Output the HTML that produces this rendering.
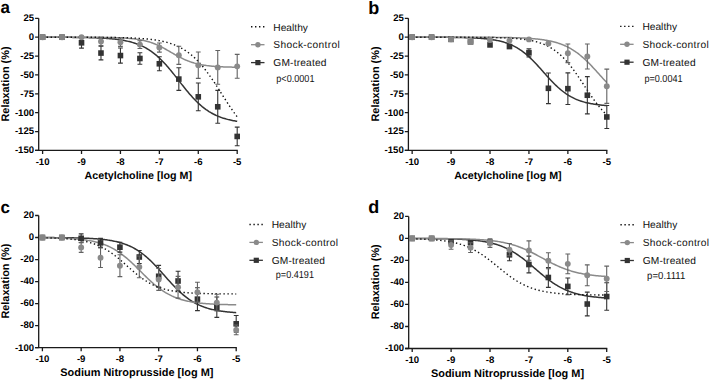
<!DOCTYPE html>
<html><head><meta charset="utf-8"><style>
html,body{margin:0;padding:0;background:#fff;}
svg{display:block;font-family:"Liberation Sans", sans-serif;text-rendering:geometricPrecision;}
</style></head><body>
<svg width="709" height="380" viewBox="0 0 709 380">
<rect width="709" height="380" fill="#fff"/>
<text x="0.6" y="13.3" font-size="17" font-weight="bold" fill="#000">a</text>
<path d="M38.70,18.35V150.40M35.10,150.40H237.80" stroke="#1a1a1a" stroke-width="1.3" fill="none"/>
<text x="34.10" y="21.25" font-size="9.6" font-weight="bold" text-anchor="end" fill="#000">25</text>
<text x="34.10" y="40.11" font-size="9.6" font-weight="bold" text-anchor="end" fill="#000">0</text>
<text x="34.10" y="58.98" font-size="9.6" font-weight="bold" text-anchor="end" fill="#000">-25</text>
<text x="34.10" y="77.84" font-size="9.6" font-weight="bold" text-anchor="end" fill="#000">-50</text>
<text x="34.10" y="96.71" font-size="9.6" font-weight="bold" text-anchor="end" fill="#000">-75</text>
<text x="34.10" y="115.57" font-size="9.6" font-weight="bold" text-anchor="end" fill="#000">-100</text>
<text x="34.10" y="134.44" font-size="9.6" font-weight="bold" text-anchor="end" fill="#000">-125</text>
<text x="34.10" y="153.30" font-size="9.6" font-weight="bold" text-anchor="end" fill="#000">-150</text>
<text x="42.60" y="164.70" font-size="9.6" font-weight="bold" text-anchor="middle" fill="#000">-10</text>
<text x="81.52" y="164.70" font-size="9.6" font-weight="bold" text-anchor="middle" fill="#000">-9</text>
<text x="120.44" y="164.70" font-size="9.6" font-weight="bold" text-anchor="middle" fill="#000">-8</text>
<text x="159.36" y="164.70" font-size="9.6" font-weight="bold" text-anchor="middle" fill="#000">-7</text>
<text x="198.28" y="164.70" font-size="9.6" font-weight="bold" text-anchor="middle" fill="#000">-6</text>
<text x="237.20" y="164.70" font-size="9.6" font-weight="bold" text-anchor="middle" fill="#000">-5</text>
<path d="M35.10,18.35H38.70M35.10,37.21H38.70M35.10,56.08H38.70M35.10,74.94H38.70M35.10,93.81H38.70M35.10,112.67H38.70M35.10,131.54H38.70M35.10,150.40H38.70M42.60,150.40V154.00M81.52,150.40V154.00M120.44,150.40V154.00M159.36,150.40V154.00M198.28,150.40V154.00M237.20,150.40V154.00" stroke="#1a1a1a" stroke-width="1.3" fill="none"/>
<text x="138.3" y="179.00" font-size="10.7" font-weight="bold" text-anchor="middle" fill="#000">Acetylcholine [log M]</text>
<text transform="translate(8.9,84.0) rotate(-90)" font-size="10.9" font-weight="bold" text-anchor="middle" fill="#000">Relaxation (%)</text>
<path d="M42.60,37.24L43.57,37.24L44.55,37.25L45.52,37.25L46.49,37.25L47.47,37.25L48.44,37.25L49.41,37.26L50.38,37.26L51.36,37.26L52.33,37.26L53.30,37.27L54.28,37.27L55.25,37.27L56.22,37.28L57.20,37.28L58.17,37.28L59.14,37.29L60.11,37.29L61.09,37.30L62.06,37.30L63.03,37.31L64.01,37.31L64.98,37.32L65.95,37.32L66.93,37.33L67.90,37.34L68.87,37.34L69.84,37.35L70.82,37.36L71.79,37.37L72.76,37.38L73.74,37.39L74.71,37.40L75.68,37.41L76.66,37.42L77.63,37.43L78.60,37.44L79.57,37.46L80.55,37.47L81.52,37.49L82.49,37.50L83.47,37.52L84.44,37.54L85.41,37.56L86.39,37.58L87.36,37.60L88.33,37.62L89.30,37.65L90.28,37.67L91.25,37.70L92.22,37.73L93.20,37.76L94.17,37.79L95.14,37.82L96.12,37.86L97.09,37.90L98.06,37.94L99.03,37.98L100.01,38.03L100.98,38.07L101.95,38.12L102.93,38.18L103.90,38.23L104.87,38.29L105.84,38.36L106.82,38.42L107.79,38.49L108.76,38.57L109.74,38.65L110.71,38.73L111.68,38.82L112.66,38.91L113.63,39.01L114.60,39.11L115.58,39.22L116.55,39.34L117.52,39.46L118.49,39.59L119.47,39.73L120.44,39.87L121.41,40.03L122.39,40.19L123.36,40.36L124.33,40.54L125.31,40.73L126.28,40.92L127.25,41.13L128.22,41.36L129.20,41.59L130.17,41.83L131.14,42.09L132.12,42.36L133.09,42.65L134.06,42.95L135.03,43.27L136.01,43.60L136.98,43.95L137.95,44.32L138.93,44.70L139.90,45.10L140.87,45.53L141.85,45.97L142.82,46.43L143.79,46.92L144.77,47.42L145.74,47.95L146.71,48.51L147.68,49.09L148.66,49.69L149.63,50.32L150.60,50.97L151.58,51.65L152.55,52.35L153.52,53.09L154.50,53.85L155.47,54.64L156.44,55.45L157.41,56.29L158.39,57.16L159.36,58.06L160.33,58.99L161.31,59.94L162.28,60.92L163.25,61.92L164.22,62.95L165.20,64.01L166.17,65.09L167.14,66.19L168.12,67.31L169.09,68.45L170.06,69.61L171.04,70.78L172.01,71.98L172.98,73.18L173.96,74.40L174.93,75.63L175.90,76.87L176.87,78.11L177.85,79.35L178.82,80.60L179.79,81.85L180.77,83.10L181.74,84.34L182.71,85.58L183.69,86.80L184.66,88.02L185.63,89.23L186.60,90.42L187.58,91.60L188.55,92.76L189.52,93.90L190.50,95.02L191.47,96.12L192.44,97.20L193.41,98.25L194.39,99.28L195.36,100.29L196.33,101.26L197.31,102.22L198.28,103.14L199.25,104.04L200.23,104.91L201.20,105.75L202.17,106.57L203.15,107.36L204.12,108.12L205.09,108.85L206.06,109.56L207.04,110.24L208.01,110.89L208.98,111.52L209.96,112.12L210.93,112.70L211.90,113.25L212.88,113.78L213.85,114.29L214.82,114.77L215.79,115.24L216.77,115.68L217.74,116.10L218.71,116.50L219.69,116.89L220.66,117.26L221.63,117.60L222.60,117.94L223.58,118.25L224.55,118.55L225.52,118.84L226.50,119.11L227.47,119.37L228.44,119.62L229.42,119.85L230.39,120.07L231.36,120.28L232.34,120.48L233.31,120.67L234.28,120.85L235.25,121.02L236.23,121.18L237.20,121.33" stroke="#333333" stroke-width="1.5" fill="none"/>
<path d="M42.60,37.22L43.57,37.22L44.55,37.22L45.52,37.22L46.49,37.22L47.47,37.22L48.44,37.22L49.41,37.22L50.38,37.22L51.36,37.22L52.33,37.22L53.30,37.22L54.28,37.22L55.25,37.22L56.22,37.22L57.20,37.22L58.17,37.22L59.14,37.22L60.11,37.22L61.09,37.22L62.06,37.22L63.03,37.22L64.01,37.22L64.98,37.22L65.95,37.22L66.93,37.22L67.90,37.23L68.87,37.23L69.84,37.23L70.82,37.23L71.79,37.23L72.76,37.23L73.74,37.23L74.71,37.23L75.68,37.23L76.66,37.24L77.63,37.24L78.60,37.24L79.57,37.24L80.55,37.24L81.52,37.25L82.49,37.25L83.47,37.25L84.44,37.25L85.41,37.26L86.39,37.26L87.36,37.26L88.33,37.27L89.30,37.27L90.28,37.27L91.25,37.28L92.22,37.28L93.20,37.29L94.17,37.30L95.14,37.30L96.12,37.31L97.09,37.32L98.06,37.32L99.03,37.33L100.01,37.34L100.98,37.35L101.95,37.36L102.93,37.37L103.90,37.39L104.87,37.40L105.84,37.41L106.82,37.43L107.79,37.45L108.76,37.46L109.74,37.48L110.71,37.50L111.68,37.53L112.66,37.55L113.63,37.57L114.60,37.60L115.58,37.63L116.55,37.66L117.52,37.70L118.49,37.74L119.47,37.78L120.44,37.82L121.41,37.86L122.39,37.91L123.36,37.97L124.33,38.02L125.31,38.08L126.28,38.15L127.25,38.22L128.22,38.30L129.20,38.38L130.17,38.46L131.14,38.56L132.12,38.65L133.09,38.76L134.06,38.87L135.03,39.00L136.01,39.13L136.98,39.26L137.95,39.41L138.93,39.57L139.90,39.74L140.87,39.92L141.85,40.11L142.82,40.31L143.79,40.52L144.77,40.75L145.74,40.99L146.71,41.24L147.68,41.51L148.66,41.79L149.63,42.09L150.60,42.41L151.58,42.74L152.55,43.08L153.52,43.44L154.50,43.82L155.47,44.22L156.44,44.63L157.41,45.05L158.39,45.49L159.36,45.95L160.33,46.42L161.31,46.91L162.28,47.41L163.25,47.92L164.22,48.44L165.20,48.97L166.17,49.51L167.14,50.06L168.12,50.62L169.09,51.18L170.06,51.74L171.04,52.31L172.01,52.87L172.98,53.43L173.96,53.99L174.93,54.55L175.90,55.10L176.87,55.64L177.85,56.17L178.82,56.69L179.79,57.20L180.77,57.70L181.74,58.19L182.71,58.66L183.69,59.12L184.66,59.56L185.63,59.99L186.60,60.40L187.58,60.79L188.55,61.17L189.52,61.53L190.50,61.88L191.47,62.21L192.44,62.52L193.41,62.82L194.39,63.10L195.36,63.37L196.33,63.62L197.31,63.86L198.28,64.09L199.25,64.30L200.23,64.51L201.20,64.70L202.17,64.87L203.15,65.04L204.12,65.20L205.09,65.35L206.06,65.49L207.04,65.62L208.01,65.74L208.98,65.85L209.96,65.96L210.93,66.06L211.90,66.15L212.88,66.24L213.85,66.32L214.82,66.39L215.79,66.46L216.77,66.53L217.74,66.59L218.71,66.64L219.69,66.70L220.66,66.75L221.63,66.79L222.60,66.84L223.58,66.88L224.55,66.91L225.52,66.95L226.50,66.98L227.47,67.01L228.44,67.04L229.42,67.06L230.39,67.09L231.36,67.11L232.34,67.13L233.31,67.15L234.28,67.17L235.25,67.18L236.23,67.20L237.20,67.21" stroke="#8a8a8a" stroke-width="1.5" fill="none"/>
<path d="M42.60,37.22L43.57,37.22L44.55,37.22L45.52,37.22L46.49,37.22L47.47,37.22L48.44,37.22L49.41,37.22L50.38,37.22L51.36,37.22L52.33,37.22L53.30,37.22L54.28,37.22L55.25,37.23L56.22,37.23L57.20,37.23L58.17,37.23L59.14,37.23L60.11,37.23L61.09,37.23L62.06,37.23L63.03,37.23L64.01,37.23L64.98,37.23L65.95,37.23L66.93,37.24L67.90,37.24L68.87,37.24L69.84,37.24L70.82,37.24L71.79,37.24L72.76,37.24L73.74,37.24L74.71,37.25L75.68,37.25L76.66,37.25L77.63,37.25L78.60,37.25L79.57,37.26L80.55,37.26L81.52,37.26L82.49,37.26L83.47,37.27L84.44,37.27L85.41,37.27L86.39,37.28L87.36,37.28L88.33,37.28L89.30,37.29L90.28,37.29L91.25,37.29L92.22,37.30L93.20,37.30L94.17,37.31L95.14,37.31L96.12,37.32L97.09,37.33L98.06,37.33L99.03,37.34L100.01,37.34L100.98,37.35L101.95,37.36L102.93,37.37L103.90,37.38L104.87,37.39L105.84,37.39L106.82,37.40L107.79,37.42L108.76,37.43L109.74,37.44L110.71,37.45L111.68,37.46L112.66,37.48L113.63,37.49L114.60,37.51L115.58,37.52L116.55,37.54L117.52,37.56L118.49,37.58L119.47,37.60L120.44,37.62L121.41,37.64L122.39,37.67L123.36,37.69L124.33,37.72L125.31,37.75L126.28,37.77L127.25,37.81L128.22,37.84L129.20,37.87L130.17,37.91L131.14,37.95L132.12,37.99L133.09,38.03L134.06,38.08L135.03,38.12L136.01,38.17L136.98,38.23L137.95,38.28L138.93,38.34L139.90,38.40L140.87,38.47L141.85,38.54L142.82,38.61L143.79,38.69L144.77,38.77L145.74,38.85L146.71,38.94L147.68,39.04L148.66,39.14L149.63,39.24L150.60,39.35L151.58,39.47L152.55,39.59L153.52,39.72L154.50,39.86L155.47,40.00L156.44,40.15L157.41,40.31L158.39,40.48L159.36,40.65L160.33,40.84L161.31,41.03L162.28,41.24L163.25,41.45L164.22,41.68L165.20,41.92L166.17,42.17L167.14,42.43L168.12,42.71L169.09,43.00L170.06,43.30L171.04,43.62L172.01,43.95L172.98,44.31L173.96,44.67L174.93,45.06L175.90,45.46L176.87,45.89L177.85,46.33L178.82,46.79L179.79,47.28L180.77,47.79L181.74,48.32L182.71,48.87L183.69,49.45L184.66,50.05L185.63,50.68L186.60,51.34L187.58,52.02L188.55,52.73L189.52,53.47L190.50,54.24L191.47,55.03L192.44,55.86L193.41,56.72L194.39,57.61L195.36,58.53L196.33,59.48L197.31,60.46L198.28,61.48L199.25,62.53L200.23,63.61L201.20,64.72L202.17,65.86L203.15,67.03L204.12,68.24L205.09,69.47L206.06,70.73L207.04,72.02L208.01,73.34L208.98,74.68L209.96,76.05L210.93,77.44L211.90,78.86L212.88,80.29L213.85,81.75L214.82,83.22L215.79,84.70L216.77,86.20L217.74,87.71L218.71,89.22L219.69,90.75L220.66,92.28L221.63,93.81L222.60,95.34L223.58,96.87L224.55,98.39L225.52,99.91L226.50,101.42L227.47,102.91L228.44,104.40L229.42,105.87L230.39,107.32L231.36,108.76L232.34,110.17L233.31,111.56L234.28,112.93L235.25,114.27L236.23,115.59L237.20,116.88" stroke="#111" stroke-width="1.4" fill="none" stroke-dasharray="1.4,2.6"/>
<path d="M81.52,37.52V48.08M79.12,37.52h4.8M79.12,48.08h4.8" stroke="#333333" stroke-width="1.1" fill="none"/><path d="M100.98,46.27V59.85M98.58,46.27h4.8M98.58,59.85h4.8" stroke="#333333" stroke-width="1.1" fill="none"/><path d="M120.44,48.00V63.10M118.04,48.00h4.8M118.04,63.10h4.8" stroke="#333333" stroke-width="1.1" fill="none"/><path d="M139.90,52.76V64.23M137.50,52.76h4.8M137.50,64.23h4.8" stroke="#333333" stroke-width="1.1" fill="none"/><path d="M159.36,56.76V70.79M156.96,56.76h4.8M156.96,70.79h4.8" stroke="#333333" stroke-width="1.1" fill="none"/><path d="M178.82,67.77V90.41M176.42,67.77h4.8M176.42,90.41h4.8" stroke="#333333" stroke-width="1.1" fill="none"/><path d="M198.28,82.94V110.71M195.88,82.94h4.8M195.88,110.71h4.8" stroke="#333333" stroke-width="1.1" fill="none"/><path d="M217.74,90.34V123.24M215.34,90.34h4.8M215.34,123.24h4.8" stroke="#333333" stroke-width="1.1" fill="none"/><path d="M237.20,127.16V145.72M234.80,127.16h4.8M234.80,145.72h4.8" stroke="#333333" stroke-width="1.1" fill="none"/><rect x="39.80" y="34.41" width="5.6" height="5.6" fill="#333333"/><rect x="59.26" y="34.41" width="5.6" height="5.6" fill="#333333"/><rect x="78.72" y="40.00" width="5.6" height="5.6" fill="#333333"/><rect x="98.18" y="50.26" width="5.6" height="5.6" fill="#333333"/><rect x="117.64" y="52.75" width="5.6" height="5.6" fill="#333333"/><rect x="137.10" y="55.69" width="5.6" height="5.6" fill="#333333"/><rect x="156.56" y="60.98" width="5.6" height="5.6" fill="#333333"/><rect x="176.02" y="76.29" width="5.6" height="5.6" fill="#333333"/><rect x="195.48" y="94.03" width="5.6" height="5.6" fill="#333333"/><rect x="214.94" y="103.99" width="5.6" height="5.6" fill="#333333"/><rect x="234.40" y="133.64" width="5.6" height="5.6" fill="#333333"/>
<path d="M100.98,37.29V45.59M98.58,37.29h4.8M98.58,45.59h4.8" stroke="#626262" stroke-width="1.1" fill="none"/><path d="M120.44,38.04V46.34M118.04,38.04h4.8M118.04,46.34h4.8" stroke="#626262" stroke-width="1.1" fill="none"/><path d="M139.90,40.69V48.53M137.50,40.69h4.8M137.50,48.53h4.8" stroke="#626262" stroke-width="1.1" fill="none"/><path d="M159.36,43.02V52.08M156.96,43.02h4.8M156.96,52.08h4.8" stroke="#626262" stroke-width="1.1" fill="none"/><path d="M178.82,46.27V64.38M176.42,46.27h4.8M176.42,64.38h4.8" stroke="#626262" stroke-width="1.1" fill="none"/><path d="M198.28,52.00V78.41M195.88,52.00h4.8M195.88,78.41h4.8" stroke="#626262" stroke-width="1.1" fill="none"/><path d="M217.74,50.49V84.30M215.34,50.49h4.8M215.34,84.30h4.8" stroke="#626262" stroke-width="1.1" fill="none"/><path d="M237.20,54.42V78.26M234.80,54.42h4.8M234.80,78.26h4.8" stroke="#626262" stroke-width="1.1" fill="none"/><circle cx="42.60" cy="37.21" r="2.95" fill="#8a8a8a"/><circle cx="62.06" cy="37.21" r="2.95" fill="#8a8a8a"/><circle cx="81.52" cy="37.21" r="2.95" fill="#8a8a8a"/><circle cx="100.98" cy="41.44" r="2.95" fill="#8a8a8a"/><circle cx="120.44" cy="42.19" r="2.95" fill="#8a8a8a"/><circle cx="139.90" cy="44.61" r="2.95" fill="#8a8a8a"/><circle cx="159.36" cy="47.55" r="2.95" fill="#8a8a8a"/><circle cx="178.82" cy="55.32" r="2.95" fill="#8a8a8a"/><circle cx="198.28" cy="65.21" r="2.95" fill="#8a8a8a"/><circle cx="217.74" cy="67.40" r="2.95" fill="#8a8a8a"/><circle cx="237.20" cy="66.34" r="2.95" fill="#8a8a8a"/>
<rect x="39.80" y="34.41" width="5.6" height="5.6" fill="#858585"/><rect x="59.26" y="34.41" width="5.6" height="5.6" fill="#858585"/>
<path d="M251.00,26.80h13.5" stroke="#111" stroke-width="1.4" stroke-dasharray="1.4,2.6" fill="none"/>
<path d="M251.00,44.70h13.5" stroke="#8a8a8a" stroke-width="1.3" fill="none"/><circle cx="257.90" cy="44.70" r="2.7" fill="#8a8a8a"/>
<path d="M251.00,62.60h13.5" stroke="#333333" stroke-width="1.3" fill="none"/><rect x="255.30" y="60.00" width="5.2" height="5.2" fill="#333333"/>
<text x="273.30" y="30.50" font-size="10.2" textLength="34.6" fill="#111">Healthy</text>
<text x="273.30" y="48.40" font-size="10.2" textLength="66.4" fill="#111">Shock-control</text>
<text x="273.30" y="66.30" font-size="10.2" textLength="53.2" fill="#111">GM-treated</text>
<text x="276.30" y="82.00" font-size="10.2" textLength="38.2" lengthAdjust="spacingAndGlyphs" fill="#111">p&lt;0.0001</text>
<text x="368.2" y="13.6" font-size="18" font-weight="bold" fill="#000">b</text>
<path d="M408.40,18.35V150.40M404.80,150.40H607.40" stroke="#1a1a1a" stroke-width="1.3" fill="none"/>
<text x="403.80" y="21.25" font-size="9.6" font-weight="bold" text-anchor="end" fill="#000">25</text>
<text x="403.80" y="40.11" font-size="9.6" font-weight="bold" text-anchor="end" fill="#000">0</text>
<text x="403.80" y="58.98" font-size="9.6" font-weight="bold" text-anchor="end" fill="#000">-25</text>
<text x="403.80" y="77.84" font-size="9.6" font-weight="bold" text-anchor="end" fill="#000">-50</text>
<text x="403.80" y="96.71" font-size="9.6" font-weight="bold" text-anchor="end" fill="#000">-75</text>
<text x="403.80" y="115.57" font-size="9.6" font-weight="bold" text-anchor="end" fill="#000">-100</text>
<text x="403.80" y="134.44" font-size="9.6" font-weight="bold" text-anchor="end" fill="#000">-125</text>
<text x="403.80" y="153.30" font-size="9.6" font-weight="bold" text-anchor="end" fill="#000">-150</text>
<text x="412.15" y="164.70" font-size="9.6" font-weight="bold" text-anchor="middle" fill="#000">-10</text>
<text x="451.08" y="164.70" font-size="9.6" font-weight="bold" text-anchor="middle" fill="#000">-9</text>
<text x="490.01" y="164.70" font-size="9.6" font-weight="bold" text-anchor="middle" fill="#000">-8</text>
<text x="528.94" y="164.70" font-size="9.6" font-weight="bold" text-anchor="middle" fill="#000">-7</text>
<text x="567.87" y="164.70" font-size="9.6" font-weight="bold" text-anchor="middle" fill="#000">-6</text>
<text x="606.80" y="164.70" font-size="9.6" font-weight="bold" text-anchor="middle" fill="#000">-5</text>
<path d="M404.80,18.35H408.40M404.80,37.21H408.40M404.80,56.08H408.40M404.80,74.94H408.40M404.80,93.81H408.40M404.80,112.67H408.40M404.80,131.54H408.40M404.80,150.40H408.40M412.15,150.40V154.00M451.08,150.40V154.00M490.01,150.40V154.00M528.94,150.40V154.00M567.87,150.40V154.00M606.80,150.40V154.00" stroke="#1a1a1a" stroke-width="1.3" fill="none"/>
<text x="507.9" y="179.00" font-size="10.7" font-weight="bold" text-anchor="middle" fill="#000">Acetylcholine [log M]</text>
<text transform="translate(378.9,84.0) rotate(-90)" font-size="10.9" font-weight="bold" text-anchor="middle" fill="#000">Relaxation (%)</text>
<path d="M412.15,37.23L413.12,37.23L414.10,37.23L415.07,37.23L416.04,37.23L417.02,37.23L417.99,37.23L418.96,37.24L419.94,37.24L420.91,37.24L421.88,37.24L422.86,37.24L423.83,37.24L424.80,37.25L425.78,37.25L426.75,37.25L427.72,37.25L428.70,37.25L429.67,37.26L430.64,37.26L431.61,37.26L432.59,37.27L433.56,37.27L434.53,37.27L435.51,37.28L436.48,37.28L437.45,37.28L438.43,37.29L439.40,37.29L440.37,37.30L441.35,37.31L442.32,37.31L443.29,37.32L444.27,37.32L445.24,37.33L446.21,37.34L447.19,37.35L448.16,37.36L449.13,37.37L450.11,37.37L451.08,37.39L452.05,37.40L453.03,37.41L454.00,37.42L454.97,37.43L455.95,37.45L456.92,37.46L457.89,37.48L458.87,37.50L459.84,37.52L460.81,37.54L461.79,37.56L462.76,37.58L463.73,37.60L464.71,37.63L465.68,37.66L466.65,37.68L467.63,37.71L468.60,37.75L469.57,37.78L470.54,37.82L471.52,37.86L472.49,37.90L473.46,37.94L474.44,37.99L475.41,38.04L476.38,38.09L477.36,38.15L478.33,38.21L479.30,38.27L480.28,38.34L481.25,38.41L482.22,38.49L483.20,38.57L484.17,38.66L485.14,38.75L486.12,38.85L487.09,38.96L488.06,39.07L489.04,39.18L490.01,39.31L490.98,39.44L491.96,39.58L492.93,39.73L493.90,39.89L494.88,40.06L495.85,40.24L496.82,40.42L497.80,40.62L498.77,40.83L499.74,41.06L500.72,41.29L501.69,41.54L502.66,41.81L503.64,42.09L504.61,42.38L505.58,42.69L506.56,43.02L507.53,43.37L508.50,43.73L509.47,44.12L510.45,44.52L511.42,44.94L512.39,45.39L513.37,45.86L514.34,46.35L515.31,46.86L516.29,47.40L517.26,47.96L518.23,48.55L519.21,49.17L520.18,49.81L521.15,50.47L522.13,51.16L523.10,51.88L524.07,52.63L525.05,53.40L526.02,54.20L526.99,55.03L527.97,55.88L528.94,56.75L529.91,57.66L530.89,58.58L531.86,59.53L532.83,60.50L533.81,61.49L534.78,62.50L535.75,63.52L536.73,64.57L537.70,65.62L538.67,66.69L539.65,67.77L540.62,68.86L541.59,69.95L542.57,71.05L543.54,72.14L544.51,73.24L545.49,74.34L546.46,75.43L547.43,76.51L548.40,77.59L549.38,78.65L550.35,79.70L551.32,80.74L552.30,81.76L553.27,82.76L554.24,83.74L555.22,84.70L556.19,85.64L557.16,86.56L558.14,87.45L559.11,88.31L560.08,89.16L561.06,89.97L562.03,90.76L563.00,91.52L563.98,92.26L564.95,92.97L565.92,93.65L566.90,94.30L567.87,94.93L568.84,95.53L569.82,96.11L570.79,96.67L571.76,97.19L572.74,97.70L573.71,98.18L574.68,98.64L575.66,99.08L576.63,99.49L577.60,99.89L578.58,100.26L579.55,100.62L580.52,100.96L581.50,101.28L582.47,101.59L583.44,101.87L584.42,102.15L585.39,102.41L586.36,102.65L587.34,102.88L588.31,103.10L589.28,103.31L590.25,103.50L591.23,103.69L592.20,103.86L593.17,104.02L594.15,104.18L595.12,104.32L596.09,104.46L597.07,104.59L598.04,104.71L599.01,104.83L599.99,104.94L600.96,105.04L601.93,105.13L602.91,105.22L603.88,105.31L604.85,105.39L605.83,105.46L606.80,105.53" stroke="#333333" stroke-width="1.5" fill="none"/>
<path d="M412.15,37.22L413.12,37.22L414.10,37.22L415.07,37.22L416.04,37.22L417.02,37.22L417.99,37.22L418.96,37.22L419.94,37.22L420.91,37.22L421.88,37.22L422.86,37.22L423.83,37.22L424.80,37.22L425.78,37.22L426.75,37.22L427.72,37.22L428.70,37.22L429.67,37.22L430.64,37.22L431.61,37.22L432.59,37.22L433.56,37.22L434.53,37.22L435.51,37.22L436.48,37.22L437.45,37.22L438.43,37.22L439.40,37.22L440.37,37.22L441.35,37.22L442.32,37.22L443.29,37.22L444.27,37.22L445.24,37.22L446.21,37.22L447.19,37.22L448.16,37.22L449.13,37.22L450.11,37.23L451.08,37.23L452.05,37.23L453.03,37.23L454.00,37.23L454.97,37.23L455.95,37.23L456.92,37.23L457.89,37.23L458.87,37.23L459.84,37.23L460.81,37.23L461.79,37.24L462.76,37.24L463.73,37.24L464.71,37.24L465.68,37.24L466.65,37.24L467.63,37.24L468.60,37.25L469.57,37.25L470.54,37.25L471.52,37.25L472.49,37.25L473.46,37.26L474.44,37.26L475.41,37.26L476.38,37.27L477.36,37.27L478.33,37.27L479.30,37.27L480.28,37.28L481.25,37.28L482.22,37.29L483.20,37.29L484.17,37.30L485.14,37.30L486.12,37.30L487.09,37.31L488.06,37.32L489.04,37.32L490.01,37.33L490.98,37.34L491.96,37.34L492.93,37.35L493.90,37.36L494.88,37.37L495.85,37.38L496.82,37.38L497.80,37.39L498.77,37.41L499.74,37.42L500.72,37.43L501.69,37.44L502.66,37.45L503.64,37.47L504.61,37.48L505.58,37.50L506.56,37.52L507.53,37.53L508.50,37.55L509.47,37.57L510.45,37.59L511.42,37.62L512.39,37.64L513.37,37.67L514.34,37.69L515.31,37.72L516.29,37.75L517.26,37.78L518.23,37.82L519.21,37.85L520.18,37.89L521.15,37.93L522.13,37.97L523.10,38.01L524.07,38.06L525.05,38.11L526.02,38.16L526.99,38.22L527.97,38.28L528.94,38.34L529.91,38.40L530.89,38.47L531.86,38.55L532.83,38.63L533.81,38.71L534.78,38.79L535.75,38.89L536.73,38.98L537.70,39.08L538.67,39.19L539.65,39.31L540.62,39.43L541.59,39.55L542.57,39.69L543.54,39.83L544.51,39.98L545.49,40.14L546.46,40.30L547.43,40.48L548.40,40.66L549.38,40.86L550.35,41.06L551.32,41.28L552.30,41.50L553.27,41.74L554.24,41.99L555.22,42.26L556.19,42.53L557.16,42.83L558.14,43.13L559.11,43.45L560.08,43.79L561.06,44.15L562.03,44.52L563.00,44.91L563.98,45.31L564.95,45.74L565.92,46.18L566.90,46.65L567.87,47.13L568.84,47.64L569.82,48.17L570.79,48.72L571.76,49.29L572.74,49.89L573.71,50.51L574.68,51.15L575.66,51.81L576.63,52.50L577.60,53.22L578.58,53.95L579.55,54.72L580.52,55.50L581.50,56.31L582.47,57.14L583.44,58.00L584.42,58.88L585.39,59.78L586.36,60.70L587.34,61.64L588.31,62.60L589.28,63.58L590.25,64.57L591.23,65.59L592.20,66.61L593.17,67.65L594.15,68.70L595.12,69.76L596.09,70.83L597.07,71.91L598.04,72.99L599.01,74.07L599.99,75.16L600.96,76.25L601.93,77.33L602.91,78.41L603.88,79.48L604.85,80.55L605.83,81.60L606.80,82.65" stroke="#8a8a8a" stroke-width="1.5" fill="none"/>
<path d="M412.15,37.22L413.12,37.22L414.10,37.22L415.07,37.22L416.04,37.22L417.02,37.22L417.99,37.22L418.96,37.22L419.94,37.22L420.91,37.22L421.88,37.22L422.86,37.22L423.83,37.22L424.80,37.22L425.78,37.22L426.75,37.22L427.72,37.22L428.70,37.22L429.67,37.22L430.64,37.22L431.61,37.22L432.59,37.22L433.56,37.22L434.53,37.22L435.51,37.22L436.48,37.22L437.45,37.22L438.43,37.22L439.40,37.23L440.37,37.23L441.35,37.23L442.32,37.23L443.29,37.23L444.27,37.23L445.24,37.23L446.21,37.23L447.19,37.23L448.16,37.23L449.13,37.23L450.11,37.24L451.08,37.24L452.05,37.24L453.03,37.24L454.00,37.24L454.97,37.24L455.95,37.25L456.92,37.25L457.89,37.25L458.87,37.25L459.84,37.25L460.81,37.26L461.79,37.26L462.76,37.26L463.73,37.26L464.71,37.27L465.68,37.27L466.65,37.28L467.63,37.28L468.60,37.28L469.57,37.29L470.54,37.29L471.52,37.30L472.49,37.30L473.46,37.31L474.44,37.31L475.41,37.32L476.38,37.33L477.36,37.33L478.33,37.34L479.30,37.35L480.28,37.36L481.25,37.37L482.22,37.38L483.20,37.39L484.17,37.40L485.14,37.41L486.12,37.42L487.09,37.43L488.06,37.45L489.04,37.46L490.01,37.48L490.98,37.49L491.96,37.51L492.93,37.53L493.90,37.55L494.88,37.57L495.85,37.59L496.82,37.62L497.80,37.64L498.77,37.67L499.74,37.70L500.72,37.73L501.69,37.76L502.66,37.79L503.64,37.83L504.61,37.87L505.58,37.91L506.56,37.95L507.53,38.00L508.50,38.05L509.47,38.10L510.45,38.15L511.42,38.21L512.39,38.27L513.37,38.34L514.34,38.41L515.31,38.48L516.29,38.56L517.26,38.64L518.23,38.73L519.21,38.83L520.18,38.93L521.15,39.03L522.13,39.14L523.10,39.26L524.07,39.39L525.05,39.52L526.02,39.66L526.99,39.81L527.97,39.97L528.94,40.14L529.91,40.32L530.89,40.51L531.86,40.71L532.83,40.92L533.81,41.14L534.78,41.38L535.75,41.63L536.73,41.89L537.70,42.17L538.67,42.47L539.65,42.78L540.62,43.11L541.59,43.45L542.57,43.82L543.54,44.21L544.51,44.61L545.49,45.04L546.46,45.49L547.43,45.96L548.40,46.46L549.38,46.98L550.35,47.53L551.32,48.11L552.30,48.71L553.27,49.35L554.24,50.01L555.22,50.70L556.19,51.42L557.16,52.18L558.14,52.97L559.11,53.79L560.08,54.64L561.06,55.53L562.03,56.46L563.00,57.41L563.98,58.40L564.95,59.43L565.92,60.49L566.90,61.59L567.87,62.72L568.84,63.88L569.82,65.07L570.79,66.30L571.76,67.55L572.74,68.84L573.71,70.15L574.68,71.48L575.66,72.84L576.63,74.23L577.60,75.63L578.58,77.05L579.55,78.48L580.52,79.93L581.50,81.39L582.47,82.86L583.44,84.33L584.42,85.80L585.39,87.27L586.36,88.74L587.34,90.21L588.31,91.66L589.28,93.10L590.25,94.53L591.23,95.95L592.20,97.34L593.17,98.72L594.15,100.07L595.12,101.39L596.09,102.70L597.07,103.97L598.04,105.21L599.01,106.42L599.99,107.60L600.96,108.75L601.93,109.87L602.91,110.95L603.88,112.00L604.85,113.01L605.83,113.99L606.80,114.93" stroke="#111" stroke-width="1.4" fill="none" stroke-dasharray="1.4,2.6"/>
<path d="M528.94,48.83V56.83M526.54,48.83h4.8M526.54,56.83h4.8" stroke="#333333" stroke-width="1.1" fill="none"/><path d="M548.40,72.98V103.62M546.00,72.98h4.8M546.00,103.62h4.8" stroke="#333333" stroke-width="1.1" fill="none"/><path d="M567.87,72.83V104.52M565.47,72.83h4.8M565.47,104.52h4.8" stroke="#333333" stroke-width="1.1" fill="none"/><path d="M587.34,76.60V113.88M584.94,76.60h4.8M584.94,113.88h4.8" stroke="#333333" stroke-width="1.1" fill="none"/><path d="M606.80,105.43V128.52M604.40,105.43h4.8M604.40,128.52h4.8" stroke="#333333" stroke-width="1.1" fill="none"/><rect x="409.35" y="34.41" width="5.6" height="5.6" fill="#333333"/><rect x="428.81" y="34.41" width="5.6" height="5.6" fill="#333333"/><rect x="448.28" y="36.53" width="5.6" height="5.6" fill="#333333"/><rect x="467.74" y="39.02" width="5.6" height="5.6" fill="#333333"/><rect x="487.21" y="42.11" width="5.6" height="5.6" fill="#333333"/><rect x="506.67" y="43.77" width="5.6" height="5.6" fill="#333333"/><rect x="526.14" y="50.03" width="5.6" height="5.6" fill="#333333"/><rect x="545.61" y="85.50" width="5.6" height="5.6" fill="#333333"/><rect x="565.07" y="85.88" width="5.6" height="5.6" fill="#333333"/><rect x="584.54" y="92.44" width="5.6" height="5.6" fill="#333333"/><rect x="604.00" y="114.17" width="5.6" height="5.6" fill="#333333"/>
<path d="M567.87,43.93V62.64M565.47,43.93h4.8M565.47,62.64h4.8" stroke="#626262" stroke-width="1.1" fill="none"/><path d="M587.34,43.93V68.98M584.94,43.93h4.8M584.94,68.98h4.8" stroke="#626262" stroke-width="1.1" fill="none"/><path d="M606.80,69.13V103.39M604.40,69.13h4.8M604.40,103.39h4.8" stroke="#626262" stroke-width="1.1" fill="none"/><circle cx="412.15" cy="37.21" r="2.95" fill="#8a8a8a"/><circle cx="431.61" cy="37.21" r="2.95" fill="#8a8a8a"/><circle cx="451.08" cy="39.33" r="2.95" fill="#8a8a8a"/><circle cx="470.54" cy="41.82" r="2.95" fill="#8a8a8a"/><circle cx="490.01" cy="40.01" r="2.95" fill="#8a8a8a"/><circle cx="509.47" cy="40.61" r="2.95" fill="#8a8a8a"/><circle cx="528.94" cy="39.40" r="2.95" fill="#8a8a8a"/><circle cx="548.40" cy="43.40" r="2.95" fill="#8a8a8a"/><circle cx="567.87" cy="53.29" r="2.95" fill="#8a8a8a"/><circle cx="587.34" cy="56.46" r="2.95" fill="#8a8a8a"/><circle cx="606.80" cy="86.26" r="2.95" fill="#8a8a8a"/>
<rect x="409.35" y="34.41" width="5.6" height="5.6" fill="#858585"/><rect x="428.81" y="34.41" width="5.6" height="5.6" fill="#858585"/><rect x="448.28" y="36.53" width="5.6" height="5.6" fill="#858585"/><rect x="467.74" y="39.02" width="5.6" height="5.6" fill="#858585"/>
<path d="M620.10,26.40h13.5" stroke="#111" stroke-width="1.4" stroke-dasharray="1.4,2.6" fill="none"/>
<path d="M620.10,44.30h13.5" stroke="#8a8a8a" stroke-width="1.3" fill="none"/><circle cx="627.00" cy="44.30" r="2.7" fill="#8a8a8a"/>
<path d="M620.10,62.20h13.5" stroke="#333333" stroke-width="1.3" fill="none"/><rect x="624.40" y="59.60" width="5.2" height="5.2" fill="#333333"/>
<text x="642.40" y="30.10" font-size="10.2" textLength="34.6" fill="#111">Healthy</text>
<text x="642.40" y="48.00" font-size="10.2" textLength="66.4" fill="#111">Shock-control</text>
<text x="642.40" y="65.90" font-size="10.2" textLength="53.2" fill="#111">GM-treated</text>
<text x="644.40" y="81.90" font-size="10.2" textLength="38.2" lengthAdjust="spacingAndGlyphs" fill="#111">p=0.0041</text>
<text x="0.6" y="212.7" font-size="17" font-weight="bold" fill="#000">c</text>
<path d="M38.70,215.50V347.60M35.10,347.60H236.80" stroke="#1a1a1a" stroke-width="1.3" fill="none"/>
<text x="34.10" y="218.40" font-size="9.6" font-weight="bold" text-anchor="end" fill="#000">20</text>
<text x="34.10" y="240.42" font-size="9.6" font-weight="bold" text-anchor="end" fill="#000">0</text>
<text x="34.10" y="262.43" font-size="9.6" font-weight="bold" text-anchor="end" fill="#000">-20</text>
<text x="34.10" y="284.45" font-size="9.6" font-weight="bold" text-anchor="end" fill="#000">-40</text>
<text x="34.10" y="306.47" font-size="9.6" font-weight="bold" text-anchor="end" fill="#000">-60</text>
<text x="34.10" y="328.48" font-size="9.6" font-weight="bold" text-anchor="end" fill="#000">-80</text>
<text x="34.10" y="350.50" font-size="9.6" font-weight="bold" text-anchor="end" fill="#000">-100</text>
<text x="42.40" y="361.90" font-size="9.6" font-weight="bold" text-anchor="middle" fill="#000">-10</text>
<text x="81.16" y="361.90" font-size="9.6" font-weight="bold" text-anchor="middle" fill="#000">-9</text>
<text x="119.92" y="361.90" font-size="9.6" font-weight="bold" text-anchor="middle" fill="#000">-8</text>
<text x="158.68" y="361.90" font-size="9.6" font-weight="bold" text-anchor="middle" fill="#000">-7</text>
<text x="197.44" y="361.90" font-size="9.6" font-weight="bold" text-anchor="middle" fill="#000">-6</text>
<text x="236.20" y="361.90" font-size="9.6" font-weight="bold" text-anchor="middle" fill="#000">-5</text>
<path d="M35.10,215.50H38.70M35.10,237.52H38.70M35.10,259.53H38.70M35.10,281.55H38.70M35.10,303.57H38.70M35.10,325.58H38.70M35.10,347.60H38.70M42.40,347.60V351.20M81.16,347.60V351.20M119.92,347.60V351.20M158.68,347.60V351.20M197.44,347.60V351.20M236.20,347.60V351.20" stroke="#1a1a1a" stroke-width="1.3" fill="none"/>
<text x="136.9" y="376.20" font-size="10.95" font-weight="bold" text-anchor="middle" fill="#000">Sodium Nitroprusside [log M]</text>
<text transform="translate(8.9,281.1) rotate(-90)" font-size="10.9" font-weight="bold" text-anchor="middle" fill="#000">Relaxation (%)</text>
<path d="M42.40,237.57L43.37,237.57L44.34,237.58L45.31,237.58L46.28,237.58L47.24,237.59L48.21,237.59L49.18,237.60L50.15,237.60L51.12,237.61L52.09,237.61L53.06,237.62L54.03,237.62L55.00,237.63L55.97,237.64L56.94,237.64L57.90,237.65L58.87,237.66L59.84,237.67L60.81,237.68L61.78,237.69L62.75,237.70L63.72,237.71L64.69,237.72L65.66,237.73L66.62,237.74L67.59,237.76L68.56,237.77L69.53,237.79L70.50,237.80L71.47,237.82L72.44,237.84L73.41,237.86L74.38,237.88L75.35,237.90L76.31,237.92L77.28,237.94L78.25,237.97L79.22,237.99L80.19,238.02L81.16,238.05L82.13,238.08L83.10,238.12L84.07,238.15L85.04,238.19L86.00,238.23L86.97,238.27L87.94,238.32L88.91,238.36L89.88,238.41L90.85,238.46L91.82,238.52L92.79,238.58L93.76,238.64L94.73,238.71L95.69,238.77L96.66,238.85L97.63,238.93L98.60,239.01L99.57,239.09L100.54,239.18L101.51,239.28L102.48,239.38L103.45,239.49L104.42,239.60L105.38,239.72L106.35,239.85L107.32,239.99L108.29,240.13L109.26,240.28L110.23,240.43L111.20,240.60L112.17,240.77L113.14,240.96L114.11,241.15L115.07,241.36L116.04,241.57L117.01,241.80L117.98,242.04L118.95,242.29L119.92,242.55L120.89,242.83L121.86,243.12L122.83,243.43L123.80,243.75L124.76,244.09L125.73,244.44L126.70,244.81L127.67,245.20L128.64,245.61L129.61,246.03L130.58,246.48L131.55,246.95L132.52,247.43L133.49,247.94L134.45,248.47L135.42,249.02L136.39,249.59L137.36,250.19L138.33,250.81L139.30,251.45L140.27,252.12L141.24,252.81L142.21,253.53L143.18,254.27L144.14,255.03L145.11,255.82L146.08,256.63L147.05,257.47L148.02,258.33L148.99,259.21L149.96,260.11L150.93,261.04L151.90,261.98L152.87,262.95L153.83,263.93L154.80,264.94L155.77,265.95L156.74,266.99L157.71,268.03L158.68,269.09L159.65,270.16L160.62,271.24L161.59,272.32L162.56,273.42L163.53,274.51L164.49,275.61L165.46,276.70L166.43,277.80L167.40,278.89L168.37,279.97L169.34,281.05L170.31,282.12L171.28,283.18L172.25,284.22L173.22,285.26L174.18,286.28L175.15,287.28L176.12,288.26L177.09,289.23L178.06,290.17L179.03,291.10L180.00,292.00L180.97,292.88L181.94,293.74L182.91,294.58L183.87,295.39L184.84,296.18L185.81,296.95L186.78,297.69L187.75,298.40L188.72,299.09L189.69,299.76L190.66,300.40L191.63,301.02L192.59,301.62L193.56,302.19L194.53,302.74L195.50,303.27L196.47,303.78L197.44,304.27L198.41,304.73L199.38,305.18L200.35,305.60L201.32,306.01L202.28,306.40L203.25,306.77L204.22,307.12L205.19,307.46L206.16,307.78L207.13,308.09L208.10,308.38L209.07,308.66L210.04,308.92L211.01,309.17L211.97,309.41L212.94,309.64L213.91,309.85L214.88,310.06L215.85,310.25L216.82,310.44L217.79,310.61L218.76,310.78L219.73,310.93L220.70,311.08L221.66,311.23L222.63,311.36L223.60,311.49L224.57,311.61L225.54,311.72L226.51,311.83L227.48,311.93L228.45,312.03L229.42,312.12L230.39,312.20L231.35,312.29L232.32,312.36L233.29,312.44L234.26,312.51L235.23,312.57L236.20,312.63" stroke="#333333" stroke-width="1.5" fill="none"/>
<path d="M42.40,237.72L43.37,237.73L44.34,237.74L45.31,237.75L46.28,237.77L47.24,237.78L48.21,237.80L49.18,237.81L50.15,237.83L51.12,237.85L52.09,237.87L53.06,237.89L54.03,237.91L55.00,237.93L55.97,237.96L56.94,237.99L57.90,238.01L58.87,238.04L59.84,238.07L60.81,238.11L61.78,238.14L62.75,238.18L63.72,238.22L64.69,238.26L65.66,238.30L66.62,238.35L67.59,238.39L68.56,238.45L69.53,238.50L70.50,238.56L71.47,238.62L72.44,238.68L73.41,238.75L74.38,238.82L75.35,238.90L76.31,238.98L77.28,239.06L78.25,239.15L79.22,239.25L80.19,239.35L81.16,239.45L82.13,239.56L83.10,239.68L84.07,239.80L85.04,239.93L86.00,240.07L86.97,240.22L87.94,240.37L88.91,240.53L89.88,240.70L90.85,240.88L91.82,241.07L92.79,241.27L93.76,241.48L94.73,241.70L95.69,241.93L96.66,242.17L97.63,242.43L98.60,242.70L99.57,242.98L100.54,243.28L101.51,243.59L102.48,243.91L103.45,244.25L104.42,244.61L105.38,244.99L106.35,245.38L107.32,245.78L108.29,246.21L109.26,246.66L110.23,247.12L111.20,247.61L112.17,248.11L113.14,248.63L114.11,249.18L115.07,249.74L116.04,250.33L117.01,250.94L117.98,251.57L118.95,252.22L119.92,252.89L120.89,253.59L121.86,254.30L122.83,255.04L123.80,255.80L124.76,256.57L125.73,257.37L126.70,258.19L127.67,259.02L128.64,259.87L129.61,260.74L130.58,261.63L131.55,262.53L132.52,263.44L133.49,264.36L134.45,265.30L135.42,266.24L136.39,267.20L137.36,268.16L138.33,269.12L139.30,270.09L140.27,271.06L141.24,272.03L142.21,273.00L143.18,273.97L144.14,274.93L145.11,275.89L146.08,276.84L147.05,277.78L148.02,278.71L148.99,279.62L149.96,280.53L150.93,281.42L151.90,282.30L152.87,283.15L153.83,284.00L154.80,284.82L155.77,285.62L156.74,286.41L157.71,287.17L158.68,287.92L159.65,288.64L160.62,289.35L161.59,290.03L162.56,290.69L163.53,291.33L164.49,291.94L165.46,292.54L166.43,293.11L167.40,293.66L168.37,294.20L169.34,294.71L170.31,295.20L171.28,295.67L172.25,296.13L173.22,296.56L174.18,296.98L175.15,297.37L176.12,297.76L177.09,298.12L178.06,298.47L179.03,298.80L180.00,299.12L180.97,299.42L181.94,299.70L182.91,299.98L183.87,300.24L184.84,300.49L185.81,300.72L186.78,300.95L187.75,301.16L188.72,301.37L189.69,301.56L190.66,301.74L191.63,301.92L192.59,302.08L193.56,302.24L194.53,302.39L195.50,302.53L196.47,302.66L197.44,302.79L198.41,302.91L199.38,303.02L200.35,303.13L201.32,303.23L202.28,303.33L203.25,303.42L204.22,303.50L205.19,303.59L206.16,303.66L207.13,303.74L208.10,303.81L209.07,303.87L210.04,303.93L211.01,303.99L211.97,304.05L212.94,304.10L213.91,304.15L214.88,304.20L215.85,304.24L216.82,304.28L217.79,304.32L218.76,304.36L219.73,304.39L220.70,304.43L221.66,304.46L222.63,304.49L223.60,304.52L224.57,304.54L225.54,304.57L226.51,304.59L227.48,304.62L228.45,304.64L229.42,304.66L230.39,304.68L231.35,304.69L232.32,304.71L233.29,304.73L234.26,304.74L235.23,304.76L236.20,304.77" stroke="#8a8a8a" stroke-width="1.5" fill="none"/>
<path d="M42.40,237.79L43.37,237.81L44.34,237.83L45.31,237.85L46.28,237.87L47.24,237.89L48.21,237.91L49.18,237.94L50.15,237.96L51.12,237.99L52.09,238.02L53.06,238.05L54.03,238.09L55.00,238.12L55.97,238.16L56.94,238.20L57.90,238.24L58.87,238.29L59.84,238.33L60.81,238.38L61.78,238.44L62.75,238.49L63.72,238.55L64.69,238.62L65.66,238.69L66.62,238.76L67.59,238.83L68.56,238.92L69.53,239.00L70.50,239.09L71.47,239.19L72.44,239.29L73.41,239.40L74.38,239.51L75.35,239.63L76.31,239.76L77.28,239.90L78.25,240.04L79.22,240.19L80.19,240.35L81.16,240.52L82.13,240.70L83.10,240.88L84.07,241.08L85.04,241.29L86.00,241.51L86.97,241.75L87.94,241.99L88.91,242.25L89.88,242.52L90.85,242.81L91.82,243.11L92.79,243.42L93.76,243.75L94.73,244.10L95.69,244.46L96.66,244.84L97.63,245.24L98.60,245.65L99.57,246.09L100.54,246.54L101.51,247.01L102.48,247.51L103.45,248.02L104.42,248.55L105.38,249.10L106.35,249.67L107.32,250.26L108.29,250.88L109.26,251.51L110.23,252.16L111.20,252.83L112.17,253.52L113.14,254.23L114.11,254.96L115.07,255.70L116.04,256.46L117.01,257.24L117.98,258.03L118.95,258.83L119.92,259.65L120.89,260.47L121.86,261.31L122.83,262.15L123.80,263.01L124.76,263.86L125.73,264.72L126.70,265.58L127.67,266.44L128.64,267.30L129.61,268.16L130.58,269.01L131.55,269.86L132.52,270.70L133.49,271.53L134.45,272.35L135.42,273.16L136.39,273.95L137.36,274.73L138.33,275.50L139.30,276.25L140.27,276.99L141.24,277.70L142.21,278.40L143.18,279.08L144.14,279.74L145.11,280.38L146.08,281.00L147.05,281.60L148.02,282.18L148.99,282.74L149.96,283.28L150.93,283.80L151.90,284.30L152.87,284.78L153.83,285.24L154.80,285.68L155.77,286.10L156.74,286.51L157.71,286.90L158.68,287.27L159.65,287.62L160.62,287.96L161.59,288.28L162.56,288.58L163.53,288.87L164.49,289.15L165.46,289.41L166.43,289.66L167.40,289.90L168.37,290.13L169.34,290.34L170.31,290.54L171.28,290.74L172.25,290.92L173.22,291.09L174.18,291.25L175.15,291.41L176.12,291.55L177.09,291.69L178.06,291.82L179.03,291.95L180.00,292.06L180.97,292.17L181.94,292.28L182.91,292.38L183.87,292.47L184.84,292.56L185.81,292.64L186.78,292.72L187.75,292.79L188.72,292.86L189.69,292.93L190.66,292.99L191.63,293.05L192.59,293.10L193.56,293.15L194.53,293.20L195.50,293.25L196.47,293.29L197.44,293.33L198.41,293.37L199.38,293.41L200.35,293.44L201.32,293.47L202.28,293.50L203.25,293.53L204.22,293.56L205.19,293.58L206.16,293.61L207.13,293.63L208.10,293.65L209.07,293.67L210.04,293.69L211.01,293.71L211.97,293.72L212.94,293.74L213.91,293.75L214.88,293.77L215.85,293.78L216.82,293.79L217.79,293.81L218.76,293.82L219.73,293.83L220.70,293.84L221.66,293.85L222.63,293.85L223.60,293.86L224.57,293.87L225.54,293.88L226.51,293.88L227.48,293.89L228.45,293.90L229.42,293.90L230.39,293.91L231.35,293.91L232.32,293.92L233.29,293.92L234.26,293.92L235.23,293.93L236.20,293.93" stroke="#111" stroke-width="1.4" fill="none" stroke-dasharray="1.4,2.6"/>
<path d="M81.16,233.88V242.69M78.76,233.88h4.8M78.76,242.69h4.8" stroke="#333333" stroke-width="1.1" fill="none"/><path d="M100.54,238.40V247.42M98.14,238.40h4.8M98.14,247.42h4.8" stroke="#333333" stroke-width="1.1" fill="none"/><path d="M119.92,242.25V252.16M117.52,242.25h4.8M117.52,252.16h4.8" stroke="#333333" stroke-width="1.1" fill="none"/><path d="M139.30,250.51V263.50M136.90,250.51h4.8M136.90,263.50h4.8" stroke="#333333" stroke-width="1.1" fill="none"/><path d="M158.68,265.37V287.16M156.28,265.37h4.8M156.28,287.16h4.8" stroke="#333333" stroke-width="1.1" fill="none"/><path d="M178.06,271.20V290.80M175.66,271.20h4.8M175.66,290.80h4.8" stroke="#333333" stroke-width="1.1" fill="none"/><path d="M197.44,287.71V310.61M195.04,287.71h4.8M195.04,310.61h4.8" stroke="#333333" stroke-width="1.1" fill="none"/><path d="M216.82,297.07V317.33M214.42,297.07h4.8M214.42,317.33h4.8" stroke="#333333" stroke-width="1.1" fill="none"/><path d="M236.20,315.57V332.08M233.80,315.57h4.8M233.80,332.08h4.8" stroke="#333333" stroke-width="1.1" fill="none"/><rect x="39.60" y="234.72" width="5.6" height="5.6" fill="#333333"/><rect x="58.98" y="234.72" width="5.6" height="5.6" fill="#333333"/><rect x="78.36" y="235.49" width="5.6" height="5.6" fill="#333333"/><rect x="97.74" y="240.11" width="5.6" height="5.6" fill="#333333"/><rect x="117.12" y="244.40" width="5.6" height="5.6" fill="#333333"/><rect x="136.50" y="254.20" width="5.6" height="5.6" fill="#333333"/><rect x="155.88" y="273.47" width="5.6" height="5.6" fill="#333333"/><rect x="175.26" y="278.20" width="5.6" height="5.6" fill="#333333"/><rect x="194.64" y="296.36" width="5.6" height="5.6" fill="#333333"/><rect x="214.02" y="304.40" width="5.6" height="5.6" fill="#333333"/><rect x="233.40" y="321.02" width="5.6" height="5.6" fill="#333333"/>
<path d="M81.16,242.47V252.38M78.76,242.47h4.8M78.76,252.38h4.8" stroke="#626262" stroke-width="1.1" fill="none"/><path d="M100.54,247.97V267.57M98.14,247.97h4.8M98.14,267.57h4.8" stroke="#626262" stroke-width="1.1" fill="none"/><path d="M119.92,254.80V276.60M117.52,254.80h4.8M117.52,276.60h4.8" stroke="#626262" stroke-width="1.1" fill="none"/><path d="M139.30,256.01V277.81M136.90,256.01h4.8M136.90,277.81h4.8" stroke="#626262" stroke-width="1.1" fill="none"/><path d="M158.68,268.56V290.36M156.28,268.56h4.8M156.28,290.36h4.8" stroke="#626262" stroke-width="1.1" fill="none"/><path d="M178.06,276.38V298.17M175.66,276.38h4.8M175.66,298.17h4.8" stroke="#626262" stroke-width="1.1" fill="none"/><path d="M197.44,282.32V302.14M195.04,282.32h4.8M195.04,302.14h4.8" stroke="#626262" stroke-width="1.1" fill="none"/><path d="M216.82,294.21V310.94M214.42,294.21h4.8M214.42,310.94h4.8" stroke="#626262" stroke-width="1.1" fill="none"/><path d="M236.20,325.03V334.72M233.80,325.03h4.8M233.80,334.72h4.8" stroke="#626262" stroke-width="1.1" fill="none"/><circle cx="42.40" cy="237.52" r="2.95" fill="#8a8a8a"/><circle cx="61.78" cy="237.52" r="2.95" fill="#8a8a8a"/><circle cx="81.16" cy="247.42" r="2.95" fill="#8a8a8a"/><circle cx="100.54" cy="257.77" r="2.95" fill="#8a8a8a"/><circle cx="119.92" cy="265.70" r="2.95" fill="#8a8a8a"/><circle cx="139.30" cy="266.91" r="2.95" fill="#8a8a8a"/><circle cx="158.68" cy="279.46" r="2.95" fill="#8a8a8a"/><circle cx="178.06" cy="287.27" r="2.95" fill="#8a8a8a"/><circle cx="197.44" cy="292.23" r="2.95" fill="#8a8a8a"/><circle cx="216.82" cy="302.58" r="2.95" fill="#8a8a8a"/><circle cx="236.20" cy="329.88" r="2.95" fill="#8a8a8a"/>
<rect x="39.60" y="234.72" width="5.6" height="5.6" fill="#858585"/><rect x="58.98" y="234.72" width="5.6" height="5.6" fill="#858585"/>
<path d="M249.40,224.50h13.5" stroke="#111" stroke-width="1.4" stroke-dasharray="1.4,2.6" fill="none"/>
<path d="M249.40,242.40h13.5" stroke="#8a8a8a" stroke-width="1.3" fill="none"/><circle cx="256.30" cy="242.40" r="2.7" fill="#8a8a8a"/>
<path d="M249.40,260.30h13.5" stroke="#333333" stroke-width="1.3" fill="none"/><rect x="253.70" y="257.70" width="5.2" height="5.2" fill="#333333"/>
<text x="271.70" y="228.20" font-size="10.2" textLength="34.6" fill="#111">Healthy</text>
<text x="271.70" y="246.10" font-size="10.2" textLength="66.4" fill="#111">Shock-control</text>
<text x="271.70" y="264.00" font-size="10.2" textLength="53.2" fill="#111">GM-treated</text>
<text x="275.80" y="278.00" font-size="10.2" textLength="38.2" lengthAdjust="spacingAndGlyphs" fill="#111">p=0.4191</text>
<text x="368.2" y="212.7" font-size="18" font-weight="bold" fill="#000">d</text>
<path d="M408.70,216.40V348.50M405.10,348.50H607.30" stroke="#1a1a1a" stroke-width="1.3" fill="none"/>
<text x="404.10" y="219.30" font-size="9.6" font-weight="bold" text-anchor="end" fill="#000">20</text>
<text x="404.10" y="241.32" font-size="9.6" font-weight="bold" text-anchor="end" fill="#000">0</text>
<text x="404.10" y="263.33" font-size="9.6" font-weight="bold" text-anchor="end" fill="#000">-20</text>
<text x="404.10" y="285.35" font-size="9.6" font-weight="bold" text-anchor="end" fill="#000">-40</text>
<text x="404.10" y="307.37" font-size="9.6" font-weight="bold" text-anchor="end" fill="#000">-60</text>
<text x="404.10" y="329.38" font-size="9.6" font-weight="bold" text-anchor="end" fill="#000">-80</text>
<text x="404.10" y="351.40" font-size="9.6" font-weight="bold" text-anchor="end" fill="#000">-100</text>
<text x="412.20" y="362.80" font-size="9.6" font-weight="bold" text-anchor="middle" fill="#000">-10</text>
<text x="451.10" y="362.80" font-size="9.6" font-weight="bold" text-anchor="middle" fill="#000">-9</text>
<text x="490.00" y="362.80" font-size="9.6" font-weight="bold" text-anchor="middle" fill="#000">-8</text>
<text x="528.90" y="362.80" font-size="9.6" font-weight="bold" text-anchor="middle" fill="#000">-7</text>
<text x="567.80" y="362.80" font-size="9.6" font-weight="bold" text-anchor="middle" fill="#000">-6</text>
<text x="606.70" y="362.80" font-size="9.6" font-weight="bold" text-anchor="middle" fill="#000">-5</text>
<path d="M405.10,216.40H408.70M405.10,238.42H408.70M405.10,260.43H408.70M405.10,282.45H408.70M405.10,304.47H408.70M405.10,326.48H408.70M405.10,348.50H408.70M412.20,348.50V352.10M451.10,348.50V352.10M490.00,348.50V352.10M528.90,348.50V352.10M567.80,348.50V352.10M606.70,348.50V352.10" stroke="#1a1a1a" stroke-width="1.3" fill="none"/>
<text x="507.5" y="377.10" font-size="10.95" font-weight="bold" text-anchor="middle" fill="#000">Sodium Nitroprusside [log M]</text>
<text transform="translate(378.9,281.8) rotate(-90)" font-size="10.9" font-weight="bold" text-anchor="middle" fill="#000">Relaxation (%)</text>
<path d="M412.20,238.47L413.17,238.48L414.15,238.48L415.12,238.48L416.09,238.49L417.06,238.49L418.04,238.49L419.01,238.50L419.98,238.50L420.95,238.51L421.93,238.51L422.90,238.52L423.87,238.53L424.84,238.53L425.81,238.54L426.79,238.54L427.76,238.55L428.73,238.56L429.70,238.57L430.68,238.58L431.65,238.59L432.62,238.59L433.60,238.61L434.57,238.62L435.54,238.63L436.51,238.64L437.49,238.65L438.46,238.66L439.43,238.68L440.40,238.69L441.38,238.71L442.35,238.73L443.32,238.74L444.29,238.76L445.26,238.78L446.24,238.80L447.21,238.82L448.18,238.85L449.15,238.87L450.13,238.90L451.10,238.92L452.07,238.95L453.05,238.98L454.02,239.01L454.99,239.05L455.96,239.08L456.94,239.12L457.91,239.16L458.88,239.20L459.85,239.25L460.82,239.29L461.80,239.34L462.77,239.39L463.74,239.45L464.71,239.50L465.69,239.57L466.66,239.63L467.63,239.70L468.60,239.77L469.58,239.84L470.55,239.92L471.52,240.00L472.50,240.09L473.47,240.19L474.44,240.28L475.41,240.39L476.38,240.49L477.36,240.61L478.33,240.73L479.30,240.85L480.27,240.99L481.25,241.12L482.22,241.27L483.19,241.43L484.16,241.59L485.14,241.76L486.11,241.94L487.08,242.12L488.05,242.32L489.03,242.53L490.00,242.74L490.97,242.97L491.94,243.21L492.92,243.46L493.89,243.72L494.86,244.00L495.83,244.28L496.81,244.58L497.78,244.89L498.75,245.22L499.72,245.56L500.70,245.92L501.67,246.29L502.64,246.67L503.61,247.08L504.59,247.49L505.56,247.93L506.53,248.38L507.50,248.85L508.48,249.33L509.45,249.84L510.42,250.36L511.39,250.90L512.37,251.45L513.34,252.03L514.31,252.62L515.28,253.23L516.26,253.86L517.23,254.50L518.20,255.16L519.17,255.84L520.15,256.53L521.12,257.24L522.09,257.97L523.06,258.71L524.04,259.46L525.01,260.22L525.98,261.00L526.96,261.79L527.93,262.58L528.90,263.39L529.87,264.21L530.85,265.03L531.82,265.85L532.79,266.68L533.76,267.52L534.74,268.36L535.71,269.19L536.68,270.03L537.65,270.86L538.62,271.69L539.60,272.52L540.57,273.34L541.54,274.15L542.51,274.95L543.49,275.75L544.46,276.54L545.43,277.31L546.40,278.07L547.38,278.82L548.35,279.56L549.32,280.28L550.29,280.99L551.27,281.68L552.24,282.35L553.21,283.01L554.18,283.65L555.16,284.27L556.13,284.88L557.10,285.47L558.08,286.04L559.05,286.59L560.02,287.13L560.99,287.64L561.96,288.14L562.94,288.63L563.91,289.09L564.88,289.54L565.86,289.97L566.83,290.39L567.80,290.78L568.77,291.17L569.75,291.53L570.72,291.89L571.69,292.23L572.66,292.55L573.63,292.86L574.61,293.16L575.58,293.44L576.55,293.71L577.52,293.97L578.50,294.22L579.47,294.45L580.44,294.68L581.41,294.89L582.39,295.10L583.36,295.29L584.33,295.48L585.30,295.66L586.28,295.83L587.25,295.99L588.22,296.14L589.19,296.28L590.17,296.42L591.14,296.55L592.11,296.68L593.09,296.80L594.06,296.91L595.03,297.01L596.00,297.12L596.98,297.21L597.95,297.30L598.92,297.39L599.89,297.47L600.87,297.55L601.84,297.63L602.81,297.70L603.78,297.76L604.75,297.83L605.73,297.89L606.70,297.94" stroke="#333333" stroke-width="1.5" fill="none"/>
<path d="M412.20,238.44L413.17,238.45L414.15,238.45L415.12,238.45L416.09,238.45L417.06,238.45L418.04,238.46L419.01,238.46L419.98,238.46L420.95,238.46L421.93,238.47L422.90,238.47L423.87,238.47L424.84,238.47L425.81,238.48L426.79,238.48L427.76,238.48L428.73,238.49L429.70,238.49L430.68,238.50L431.65,238.50L432.62,238.50L433.60,238.51L434.57,238.51L435.54,238.52L436.51,238.53L437.49,238.53L438.46,238.54L439.43,238.55L440.40,238.55L441.38,238.56L442.35,238.57L443.32,238.58L444.29,238.58L445.26,238.59L446.24,238.60L447.21,238.61L448.18,238.63L449.15,238.64L450.13,238.65L451.10,238.66L452.07,238.68L453.05,238.69L454.02,238.70L454.99,238.72L455.96,238.74L456.94,238.76L457.91,238.77L458.88,238.79L459.85,238.81L460.82,238.84L461.80,238.86L462.77,238.88L463.74,238.91L464.71,238.94L465.69,238.96L466.66,238.99L467.63,239.03L468.60,239.06L469.58,239.09L470.55,239.13L471.52,239.17L472.50,239.21L473.47,239.26L474.44,239.30L475.41,239.35L476.38,239.40L477.36,239.45L478.33,239.51L479.30,239.57L480.27,239.63L481.25,239.69L482.22,239.76L483.19,239.84L484.16,239.91L485.14,239.99L486.11,240.07L487.08,240.16L488.05,240.25L489.03,240.35L490.00,240.45L490.97,240.56L491.94,240.67L492.92,240.79L493.89,240.92L494.86,241.04L495.83,241.18L496.81,241.32L497.78,241.47L498.75,241.63L499.72,241.79L500.70,241.96L501.67,242.14L502.64,242.33L503.61,242.52L504.59,242.72L505.56,242.94L506.53,243.16L507.50,243.39L508.48,243.63L509.45,243.87L510.42,244.13L511.39,244.40L512.37,244.68L513.34,244.97L514.31,245.27L515.28,245.58L516.26,245.91L517.23,246.24L518.20,246.58L519.17,246.94L520.15,247.30L521.12,247.68L522.09,248.07L523.06,248.47L524.04,248.88L525.01,249.30L525.98,249.73L526.96,250.17L527.93,250.62L528.90,251.07L529.87,251.54L530.85,252.02L531.82,252.50L532.79,252.99L533.76,253.49L534.74,253.99L535.71,254.50L536.68,255.02L537.65,255.54L538.62,256.06L539.60,256.58L540.57,257.11L541.54,257.64L542.51,258.17L543.49,258.70L544.46,259.22L545.43,259.75L546.40,260.27L547.38,260.79L548.35,261.31L549.32,261.82L550.29,262.32L551.27,262.82L552.24,263.31L553.21,263.80L554.18,264.28L555.16,264.75L556.13,265.21L557.10,265.66L558.08,266.10L559.05,266.53L560.02,266.95L560.99,267.36L561.96,267.76L562.94,268.15L563.91,268.53L564.88,268.90L565.86,269.26L566.83,269.61L567.80,269.94L568.77,270.27L569.75,270.58L570.72,270.88L571.69,271.17L572.66,271.46L573.63,271.73L574.61,271.99L575.58,272.24L576.55,272.48L577.52,272.71L578.50,272.93L579.47,273.15L580.44,273.35L581.41,273.55L582.39,273.74L583.36,273.92L584.33,274.09L585.30,274.25L586.28,274.41L587.25,274.56L588.22,274.70L589.19,274.84L590.17,274.97L591.14,275.10L592.11,275.22L593.09,275.33L594.06,275.44L595.03,275.54L596.00,275.64L596.98,275.73L597.95,275.82L598.92,275.91L599.89,275.99L600.87,276.06L601.84,276.14L602.81,276.21L603.78,276.27L604.75,276.33L605.73,276.39L606.70,276.45" stroke="#8a8a8a" stroke-width="1.5" fill="none"/>
<path d="M412.20,238.81L413.17,238.83L414.15,238.86L415.12,238.88L416.09,238.91L417.06,238.94L418.04,238.97L419.01,239.00L419.98,239.03L420.95,239.07L421.93,239.10L422.90,239.14L423.87,239.19L424.84,239.23L425.81,239.28L426.79,239.32L427.76,239.38L428.73,239.43L429.70,239.49L430.68,239.55L431.65,239.61L432.62,239.68L433.60,239.75L434.57,239.83L435.54,239.91L436.51,239.99L437.49,240.08L438.46,240.18L439.43,240.27L440.40,240.38L441.38,240.49L442.35,240.60L443.32,240.73L444.29,240.85L445.26,240.99L446.24,241.13L447.21,241.28L448.18,241.44L449.15,241.60L450.13,241.78L451.10,241.96L452.07,242.15L453.05,242.35L454.02,242.57L454.99,242.79L455.96,243.02L456.94,243.27L457.91,243.52L458.88,243.79L459.85,244.07L460.82,244.36L461.80,244.67L462.77,244.99L463.74,245.33L464.71,245.68L465.69,246.04L466.66,246.42L467.63,246.82L468.60,247.23L469.58,247.66L470.55,248.10L471.52,248.56L472.50,249.04L473.47,249.54L474.44,250.05L475.41,250.58L476.38,251.13L477.36,251.69L478.33,252.28L479.30,252.88L480.27,253.49L481.25,254.12L482.22,254.77L483.19,255.44L484.16,256.12L485.14,256.81L486.11,257.52L487.08,258.24L488.05,258.97L489.03,259.72L490.00,260.47L490.97,261.24L491.94,262.01L492.92,262.79L493.89,263.58L494.86,264.37L495.83,265.17L496.81,265.96L497.78,266.76L498.75,267.56L499.72,268.36L500.70,269.16L501.67,269.95L502.64,270.73L503.61,271.52L504.59,272.29L505.56,273.05L506.53,273.81L507.50,274.55L508.48,275.29L509.45,276.01L510.42,276.72L511.39,277.41L512.37,278.09L513.34,278.75L514.31,279.40L515.28,280.03L516.26,280.65L517.23,281.25L518.20,281.83L519.17,282.40L520.15,282.94L521.12,283.47L522.09,283.99L523.06,284.48L524.04,284.96L525.01,285.42L525.98,285.87L526.96,286.30L527.93,286.71L528.90,287.10L529.87,287.48L530.85,287.85L531.82,288.20L532.79,288.53L533.76,288.85L534.74,289.16L535.71,289.46L536.68,289.74L537.65,290.00L538.62,290.26L539.60,290.50L540.57,290.74L541.54,290.96L542.51,291.17L543.49,291.37L544.46,291.57L545.43,291.75L546.40,291.92L547.38,292.09L548.35,292.25L549.32,292.39L550.29,292.54L551.27,292.67L552.24,292.80L553.21,292.92L554.18,293.04L555.16,293.15L556.13,293.25L557.10,293.35L558.08,293.44L559.05,293.53L560.02,293.62L560.99,293.70L561.96,293.77L562.94,293.84L563.91,293.91L564.88,293.98L565.86,294.04L566.83,294.10L567.80,294.15L568.77,294.20L569.75,294.25L570.72,294.30L571.69,294.34L572.66,294.38L573.63,294.42L574.61,294.46L575.58,294.49L576.55,294.53L577.52,294.56L578.50,294.59L579.47,294.62L580.44,294.64L581.41,294.67L582.39,294.69L583.36,294.72L584.33,294.74L585.30,294.76L586.28,294.78L587.25,294.80L588.22,294.81L589.19,294.83L590.17,294.84L591.14,294.86L592.11,294.87L593.09,294.89L594.06,294.90L595.03,294.91L596.00,294.92L596.98,294.93L597.95,294.94L598.92,294.95L599.89,294.96L600.87,294.97L601.84,294.97L602.81,294.98L603.78,294.99L604.75,295.00L605.73,295.00L606.70,295.01" stroke="#111" stroke-width="1.4" fill="none" stroke-dasharray="1.4,2.6"/>
<path d="M509.45,248.87V260.76M507.05,248.87h4.8M507.05,260.76h4.8" stroke="#333333" stroke-width="1.1" fill="none"/><path d="M528.90,256.14V272.87M526.50,256.14h4.8M526.50,272.87h4.8" stroke="#333333" stroke-width="1.1" fill="none"/><path d="M548.35,267.59V287.40M545.95,267.59h4.8M545.95,287.40h4.8" stroke="#333333" stroke-width="1.1" fill="none"/><path d="M567.80,278.05V294.78M565.40,278.05h4.8M565.40,294.78h4.8" stroke="#333333" stroke-width="1.1" fill="none"/><path d="M587.25,292.14V315.92M584.85,292.14h4.8M584.85,315.92h4.8" stroke="#333333" stroke-width="1.1" fill="none"/><path d="M606.70,282.78V310.30M604.30,282.78h4.8M604.30,310.30h4.8" stroke="#333333" stroke-width="1.1" fill="none"/><rect x="409.40" y="235.62" width="5.6" height="5.6" fill="#333333"/><rect x="428.85" y="235.62" width="5.6" height="5.6" fill="#333333"/><rect x="448.30" y="238.92" width="5.6" height="5.6" fill="#333333"/><rect x="467.75" y="239.91" width="5.6" height="5.6" fill="#333333"/><rect x="487.20" y="239.36" width="5.6" height="5.6" fill="#333333"/><rect x="506.65" y="252.02" width="5.6" height="5.6" fill="#333333"/><rect x="526.10" y="261.71" width="5.6" height="5.6" fill="#333333"/><rect x="545.55" y="274.70" width="5.6" height="5.6" fill="#333333"/><rect x="565.00" y="283.61" width="5.6" height="5.6" fill="#333333"/><rect x="584.45" y="301.23" width="5.6" height="5.6" fill="#333333"/><rect x="603.90" y="293.74" width="5.6" height="5.6" fill="#333333"/>
<path d="M451.10,240.84V249.20M448.70,240.84h4.8M448.70,249.20h4.8" stroke="#626262" stroke-width="1.1" fill="none"/><path d="M470.55,242.82V252.51M468.15,242.82h4.8M468.15,252.51h4.8" stroke="#626262" stroke-width="1.1" fill="none"/><path d="M490.00,238.75V247.33M487.60,238.75h4.8M487.60,247.33h4.8" stroke="#626262" stroke-width="1.1" fill="none"/><path d="M509.45,243.48V255.81M507.05,243.48h4.8M507.05,255.81h4.8" stroke="#626262" stroke-width="1.1" fill="none"/><path d="M528.90,240.84V260.21M526.50,240.84h4.8M526.50,260.21h4.8" stroke="#626262" stroke-width="1.1" fill="none"/><path d="M548.35,252.73V268.80M545.95,252.73h4.8M545.95,268.80h4.8" stroke="#626262" stroke-width="1.1" fill="none"/><path d="M567.80,253.94V273.75M565.40,253.94h4.8M565.40,273.75h4.8" stroke="#626262" stroke-width="1.1" fill="none"/><path d="M587.25,264.84V285.75M584.85,264.84h4.8M584.85,285.75h4.8" stroke="#626262" stroke-width="1.1" fill="none"/><path d="M606.70,266.16V291.48M604.30,266.16h4.8M604.30,291.48h4.8" stroke="#626262" stroke-width="1.1" fill="none"/><circle cx="412.20" cy="238.42" r="2.95" fill="#8a8a8a"/><circle cx="431.65" cy="238.42" r="2.95" fill="#8a8a8a"/><circle cx="451.10" cy="245.02" r="2.95" fill="#8a8a8a"/><circle cx="470.55" cy="247.66" r="2.95" fill="#8a8a8a"/><circle cx="490.00" cy="243.04" r="2.95" fill="#8a8a8a"/><circle cx="509.45" cy="249.65" r="2.95" fill="#8a8a8a"/><circle cx="528.90" cy="250.53" r="2.95" fill="#8a8a8a"/><circle cx="548.35" cy="260.76" r="2.95" fill="#8a8a8a"/><circle cx="567.80" cy="263.85" r="2.95" fill="#8a8a8a"/><circle cx="587.25" cy="275.29" r="2.95" fill="#8a8a8a"/><circle cx="606.70" cy="278.82" r="2.95" fill="#8a8a8a"/>
<rect x="409.40" y="235.62" width="5.6" height="5.6" fill="#858585"/><rect x="428.85" y="235.62" width="5.6" height="5.6" fill="#858585"/><rect x="487.20" y="239.80" width="5.6" height="5.6" fill="#858585"/>
<path d="M620.40,224.70h13.5" stroke="#111" stroke-width="1.4" stroke-dasharray="1.4,2.6" fill="none"/>
<path d="M620.40,242.60h13.5" stroke="#8a8a8a" stroke-width="1.3" fill="none"/><circle cx="627.30" cy="242.60" r="2.7" fill="#8a8a8a"/>
<path d="M620.40,260.50h13.5" stroke="#333333" stroke-width="1.3" fill="none"/><rect x="624.70" y="257.90" width="5.2" height="5.2" fill="#333333"/>
<text x="642.70" y="228.40" font-size="10.2" textLength="34.6" fill="#111">Healthy</text>
<text x="642.70" y="246.30" font-size="10.2" textLength="66.4" fill="#111">Shock-control</text>
<text x="642.70" y="264.20" font-size="10.2" textLength="53.2" fill="#111">GM-treated</text>
<text x="647.10" y="279.00" font-size="10.2" textLength="38.2" lengthAdjust="spacingAndGlyphs" fill="#111">p=0.1111</text>
</svg></body></html>
